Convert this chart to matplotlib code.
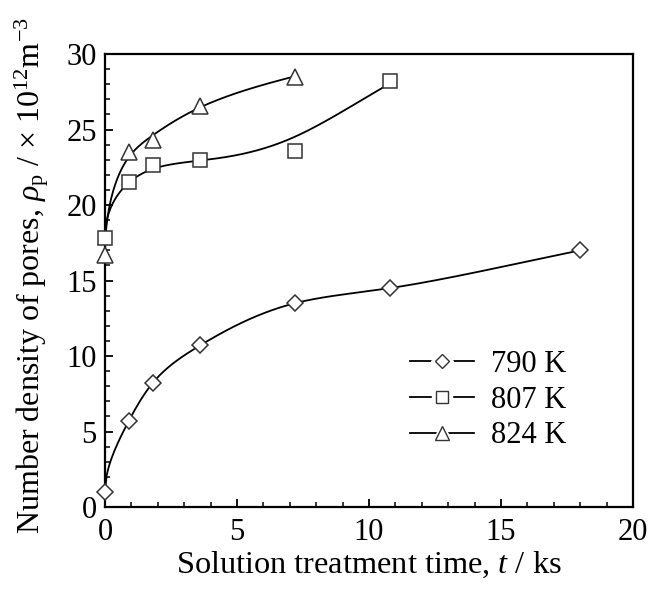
import numpy as np
import matplotlib
matplotlib.use("Agg")
import matplotlib.pyplot as plt
from matplotlib.ticker import MultipleLocator
from matplotlib.lines import Line2D

plt.rcParams['font.family'] = ['Liberation Serif', 'DejaVu Sans']
plt.rcParams['mathtext.fontset'] = 'custom'
plt.rcParams['mathtext.rm'] = 'Liberation Serif'
plt.rcParams['mathtext.it'] = 'Liberation Serif:italic'

# data
t_790 = [0.0, 0.9, 1.8, 3.6, 7.2, 10.8, 18.0]
rho_790 = [1.0, 5.7, 8.2, 10.7, 13.5, 14.5, 17.0]
t_807 = [0.0, 0.9, 1.8, 3.6, 7.2, 10.8]
rho_807 = [17.8, 21.5, 22.65, 23.0, 23.6, 28.2]
t_824 = [0.0, 0.9, 1.8, 3.6, 7.2]
rho_824 = [16.7, 23.5, 24.3, 26.55, 28.5]
labels = ['790 K', '807 K', '824 K']


def natural_spline(x, y, xq):
    x = np.asarray(x, float); y = np.asarray(y, float)
    n = len(x)
    h = np.diff(x)
    A = np.zeros((n, n)); b = np.zeros(n)
    A[0, 0] = 1; A[-1, -1] = 1
    for i in range(1, n - 1):
        A[i, i - 1] = h[i - 1]
        A[i, i] = 2 * (h[i - 1] + h[i])
        A[i, i + 1] = h[i]
        b[i] = 3 * ((y[i + 1] - y[i]) / h[i] - (y[i] - y[i - 1]) / h[i - 1])
    c = np.linalg.solve(A, b)
    out = np.empty_like(xq)
    for k, xv in enumerate(xq):
        i = min(max(np.searchsorted(x, xv) - 1, 0), n - 2)
        dx = xv - x[i]
        bi = (y[i + 1] - y[i]) / h[i] - h[i] * (2 * c[i] + c[i + 1]) / 3
        di = (c[i + 1] - c[i]) / (3 * h[i])
        out[k] = y[i] + bi * dx + c[i] * dx ** 2 + di * dx ** 3
    return out


def smoothing_spline(x, y, xq, lam, w=None):
    """Reinsch cubic smoothing spline (optional point weights)."""
    x = np.asarray(x, float); y = np.asarray(y, float)
    n = len(x)
    Winv = np.diag(1.0 / np.asarray(w if w is not None else np.ones(n), float))
    h = np.diff(x)
    Q = np.zeros((n, n - 2))
    R = np.zeros((n - 2, n - 2))
    for j in range(1, n - 1):
        Q[j - 1, j - 1] = 1 / h[j - 1]
        Q[j, j - 1] = -1 / h[j - 1] - 1 / h[j]
        Q[j + 1, j - 1] = 1 / h[j]
        R[j - 1, j - 1] = (h[j - 1] + h[j]) / 3
        if j < n - 2:
            R[j - 1, j] = R[j, j - 1] = h[j] / 6
    g = np.linalg.solve(R + lam * Q.T @ Winv @ Q, Q.T @ y)
    f = y - lam * Winv @ Q @ g
    return natural_spline(x, f, xq)


fig = plt.figure(figsize=(6.53, 5.91), dpi=100)
ax = fig.add_axes([0.1608, 0.1421, 0.8086, 0.7665])

ec = '#333333'
series = [(t_790, rho_790, 'D', 8, 0.0, None),
          (t_807, rho_807, 's', 9.5, 0.04, [1, 1, 1.5, 1.5, 1.0, 4]),
          (t_824, rho_824, '^', 11, 0.012, None)]
handles = []
for (t, r, m, ms, lam, w), lab in zip(series, labels):
    u = np.sqrt(np.asarray(t))
    tq = np.linspace(0, max(t), 300)
    uq = np.sqrt(tq)
    if lam == 0:
        rq = natural_spline(u, r, uq)
    else:
        rq = smoothing_spline(u, r, uq, lam, w)
    ax.plot(tq, rq, color='black', lw=1.3, zorder=2)
    ax.plot(t, r, linestyle='none', marker=m, ms=ms, mfc='white', mec=ec, mew=1.1,
            zorder=3, clip_on=False)
    h_line = Line2D([], [], color='black', lw=1.3)
    h_gap = Line2D([], [], linestyle='none', marker=m, ms=ms * 1.45, mfc='white', mec='white')
    h_mark = Line2D([], [], linestyle='none', marker=m, ms=ms * 0.95, mfc='white', mec=ec, mew=1.0)
    handles.append((h_line, h_gap, h_mark))

ax.set_xlim(0, 20)
ax.set_ylim(0, 30)
ax.xaxis.set_major_locator(MultipleLocator(5))
ax.xaxis.set_minor_locator(MultipleLocator(1))
ax.yaxis.set_major_locator(MultipleLocator(5))
ax.yaxis.set_minor_locator(MultipleLocator(1))
ax.tick_params(which='both', direction='in', top=False, right=False, labelsize=22)
ax.tick_params(which='major', length=6, width=1.3, pad=8)
ax.tick_params(which='minor', length=3.5, width=1.1)
ax.tick_params(axis='y', which='major', pad=6)
for s in ax.spines.values():
    s.set_linewidth(1.6)

ax.set_xlabel('Solution treatment time, $\\it{t}$ / ks', fontsize=23.3, labelpad=2)
ax.set_ylabel('Number density of pores, $\\rho_{\\rm p}$ / ' + '\u00d7' + ' 10$^{12}$m$^{-3}$',
              fontsize=23, labelpad=4)
ax.yaxis.set_label_coords(-0.102, 0.512)

leg = ax.legend(handles, labels, loc='center left', bbox_to_anchor=(0.578, 0.236),
                frameon=False, fontsize=22, handlelength=2.1, handletextpad=0.55,
                labelspacing=0.22, borderpad=0, borderaxespad=0)

fig.savefig('out.png', dpi=100)
